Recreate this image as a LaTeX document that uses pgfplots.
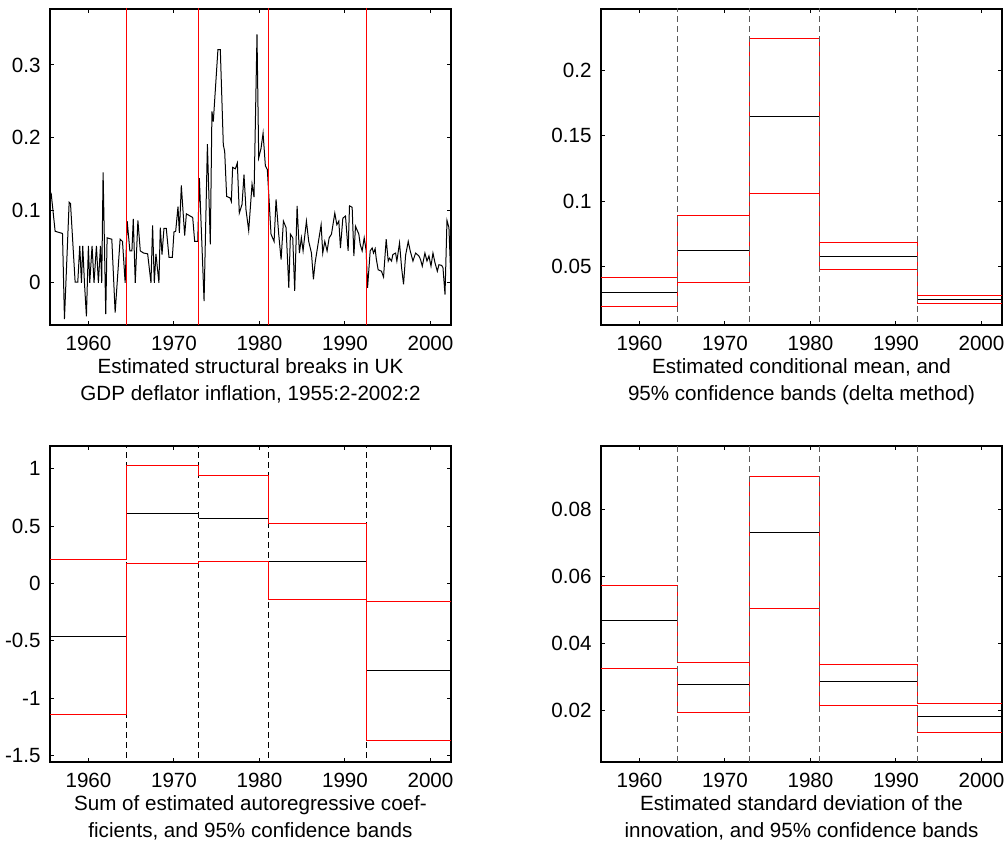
\documentclass[border=0pt]{standalone}
\usepackage{pgfplots}
\pgfplotsset{compat=1.18}
\usepackage{fontspec}
\setmainfont{Liberation Sans}

\pgfplotsset{
  panel/.style={
    scale only axis, width=200.5pt, height=158pt,
    anchor=south west,
    xmin=1955.5, xmax=2002.4,
    xtick={1960,1970,1980,1990,2000},
    scaled y ticks=false,
    tick align=inside, major tick length=2pt,
    axis line style={line width=0.6pt},
    every tick/.style={black, line width=0.5pt},
    tick label style={font=\fontsize{10.3}{12}\selectfont},
    /pgf/number format/assume math mode=true,
    x tick label style={/pgf/number format/1000 sep={}, yshift=-1.8pt},
    y tick label style={/pgf/number format/fixed, /pgf/number format/precision=2, xshift=-1.2pt},
    xlabel style={at={(axis description cs:0.5,0)}, anchor=north, yshift=-13.3pt,
      align=center, font=\fontsize{10.3}{13.3}\selectfont},
  },
  band/.style={red, line width=0.5pt, const plot mark left},
  est/.style={black, line width=0.5pt, jump mark left},
  brk/.style={line width=0.5pt, dash pattern=on 3pt off 2pt},
}

\begin{document}
\begin{tikzpicture}
\useasboundingbox (0,0) rectangle (503.5pt,424pt);

% top left: inflation series and breaks
\begin{axis}[panel, at={(25pt,261.5pt)},
  ymin=-0.058, ymax=0.377, ytick={0,0.1,0.2,0.3},
  xlabel={Estimated structural breaks in UK\\GDP deflator inflation, 1955:2-2002:2}]
\addplot[black, line width=0.5pt] coordinates {
(1955.63,0.124) (1956.10,0.071) (1956.96,0.068) (1957.19,-0.050) (1957.74,0.111)
(1957.90,0.109) (1958.44,0.001) (1958.75,0.001) (1958.98,0.051) (1959.18,0.000)
(1959.33,0.051) (1959.53,0.000) (1959.76,-0.046) (1959.99,0.051) (1960.15,0.000)
(1960.42,0.051) (1960.65,0.000) (1960.93,0.051) (1961.16,0.000) (1961.40,0.051)
(1961.55,0.000) (1961.71,0.152) (1962.02,-0.043) (1962.18,0.062) (1962.73,0.060)
(1963.12,-0.041) (1963.70,0.060) (1963.98,0.057) (1964.29,0.000) (1964.53,0.085)
(1964.84,0.044) (1965.08,0.044) (1965.24,0.088) (1965.47,0.000) (1965.78,0.086)
(1966.06,0.044) (1966.45,0.041) (1966.92,0.040) (1967.31,0.000) (1967.50,0.079)
(1967.70,0.000) (1967.89,0.040) (1968.24,0.000) (1968.40,0.076) (1968.60,0.039)
(1968.83,0.075) (1969.10,0.075) (1969.42,0.035) (1969.81,0.035) (1970.00,0.070)
(1970.20,0.071) (1970.47,0.105) (1970.63,0.069) (1970.86,0.134) (1971.25,0.065)
(1971.45,0.095) (1972.19,0.090) (1972.42,0.057) (1972.78,0.057) (1972.97,0.144)
(1973.52,-0.025) (1973.91,0.191) (1974.25,0.053) (1974.44,0.236) (1974.60,0.222)
(1975.14,0.321) (1975.42,0.321) (1975.77,0.190) (1975.93,0.181) (1976.16,0.119)
(1976.55,0.117) (1976.71,0.112) (1976.86,0.159) (1977.18,0.157) (1977.41,0.165)
(1977.64,0.096) (1977.96,0.108) (1978.19,0.149) (1978.42,0.101) (1978.74,0.072)
(1979.13,0.136) (1979.36,0.118) (1979.71,0.342) (1979.91,0.172) (1980.18,0.185)
(1980.42,0.206) (1980.69,0.161) (1980.92,0.156) (1981.35,0.067) (1981.71,0.057)
(1981.94,0.115) (1982.25,0.067) (1982.53,0.032) (1982.80,0.085) (1983.11,0.076)
(1983.43,-0.007) (1983.62,0.067) (1983.89,0.062) (1984.12,-0.011) (1984.40,0.106)
(1984.67,0.041) (1984.90,0.062) (1985.10,0.044) (1985.49,0.085) (1985.76,0.057)
(1986.08,0.041) (1986.31,0.005) (1986.51,0.028) (1986.94,0.060) (1987.21,0.080)
(1987.40,0.041) (1987.64,0.057) (1987.91,0.044) (1988.15,0.062) (1988.42,0.067)
(1988.81,0.096) (1989.05,0.080) (1989.28,0.085) (1989.47,0.048) (1989.75,0.089)
(1990.06,0.092) (1990.37,0.044) (1990.53,0.106) (1990.84,0.104) (1991.04,0.037)
(1991.23,0.078) (1991.62,0.067) (1991.78,0.053) (1992.01,0.044) (1992.25,0.062)
(1992.48,0.044) (1992.64,-0.007) (1992.95,0.044) (1993.18,0.048) (1993.34,0.041)
(1993.53,0.047) (1993.65,0.034) (1993.88,0.018) (1994.27,0.016) (1994.51,0.008)
(1994.82,0.060) (1995.06,0.030) (1995.21,0.034) (1995.45,0.030) (1995.60,0.039)
(1995.92,0.041) (1996.07,0.030) (1996.38,0.055) (1996.62,0.021) (1996.85,-0.002)
(1997.09,0.038) (1997.40,0.057) (1997.63,0.044) (1997.95,0.030) (1998.26,0.041)
(1998.65,0.037) (1998.84,0.032) (1999.04,0.023) (1999.35,0.041) (1999.59,0.030)
(1999.82,0.037) (2000.06,0.023) (2000.29,0.041) (2000.52,0.028) (2000.80,0.016)
(2000.99,0.025) (2001.31,0.024) (2001.46,0.021) (2001.70,-0.016) (2001.93,0.086)
(2002.16,0.076) (2002.40,0.000)
};
\addplot[red, line width=0.5pt] coordinates {(1964.45,-1) (1964.45,1)};
\addplot[red, line width=0.5pt] coordinates {(1972.9,-1) (1972.9,1)};
\addplot[red, line width=0.5pt] coordinates {(1981.1,-1) (1981.1,1)};
\addplot[red, line width=0.5pt] coordinates {(1992.5,-1) (1992.5,1)};
\end{axis}

% top right: conditional mean
\begin{axis}[panel, at={(300.5pt,261.5pt)},
  ymin=0.0054, ymax=0.2467, ytick={0.05,0.1,0.15,0.2},
  xlabel={Estimated conditional mean, and\\95\% confidence bands (delta method)}]
\addplot[est] coordinates {(1955.5,0.0304) (1964.45,0.0626) (1972.9,0.1649) (1981.1,0.0574) (1992.5,0.0245) (2002.4,0.0245)};
\addplot[band] coordinates {(1955.5,0.0416) (1964.45,0.0887) (1972.9,0.2245) (1981.1,0.0687) (1992.5,0.0278) (2002.4,0.0278)};
\addplot[band] coordinates {(1955.5,0.0194) (1964.45,0.0377) (1972.9,0.1061) (1981.1,0.0475) (1992.5,0.0220) (2002.4,0.0220)};
\addplot[brk, black!65] coordinates {(1964.45,-1) (1964.45,1)};
\addplot[brk, black!65] coordinates {(1972.9,-1) (1972.9,1)};
\addplot[brk, black!65] coordinates {(1981.1,-1) (1981.1,1)};
\addplot[brk, black!65] coordinates {(1992.5,-1) (1992.5,1)};
\end{axis}

% bottom left: sum of AR coefficients
\begin{axis}[panel, at={(25pt,43pt)},
  ymin=-1.555, ymax=1.197, ytick={-1.5,-1,-0.5,0,0.5,1},
  xlabel={Sum of estimated autoregressive coef-\\ficients, and 95\% confidence bands}]
\addplot[brk, black] coordinates {(1964.45,-3) (1964.45,3)};
\addplot[brk, black] coordinates {(1972.9,-3) (1972.9,3)};
\addplot[brk, black] coordinates {(1981.1,-3) (1981.1,3)};
\addplot[brk, black] coordinates {(1992.5,-3) (1992.5,3)};
\addplot[est] coordinates {(1955.5,-0.466) (1964.45,0.607) (1972.9,0.566) (1981.1,0.188) (1992.5,-0.754) (2002.4,-0.754)};
\addplot[band] coordinates {(1955.5,0.205) (1964.45,1.030) (1972.9,0.942) (1981.1,0.526) (1992.5,-0.156) (2002.4,-0.156)};
\addplot[band] coordinates {(1955.5,-1.139) (1964.45,0.176) (1972.9,0.193) (1981.1,-0.141) (1992.5,-1.364) (2002.4,-1.364)};
\end{axis}

% bottom right: innovation standard deviation
\begin{axis}[panel, at={(300.5pt,43pt)},
  ymin=0.0046, ymax=0.0988, ytick={0.02,0.04,0.06,0.08},
  xlabel={Estimated standard deviation of the\\innovation, and 95\% confidence bands}]
\addplot[est] coordinates {(1955.5,0.0467) (1964.45,0.0276) (1972.9,0.0729) (1981.1,0.0285) (1992.5,0.0182) (2002.4,0.0182)};
\addplot[band] coordinates {(1955.5,0.0571) (1964.45,0.0343) (1972.9,0.0896) (1981.1,0.0336) (1992.5,0.0219) (2002.4,0.0219)};
\addplot[band] coordinates {(1955.5,0.0324) (1964.45,0.0194) (1972.9,0.0504) (1981.1,0.0214) (1992.5,0.0134) (2002.4,0.0134)};
\addplot[brk, black!65] coordinates {(1964.45,-1) (1964.45,1)};
\addplot[brk, black!65] coordinates {(1972.9,-1) (1972.9,1)};
\addplot[brk, black!65] coordinates {(1981.1,-1) (1981.1,1)};
\addplot[brk, black!65] coordinates {(1992.5,-1) (1992.5,1)};
\end{axis}
\end{tikzpicture}
\end{document}
